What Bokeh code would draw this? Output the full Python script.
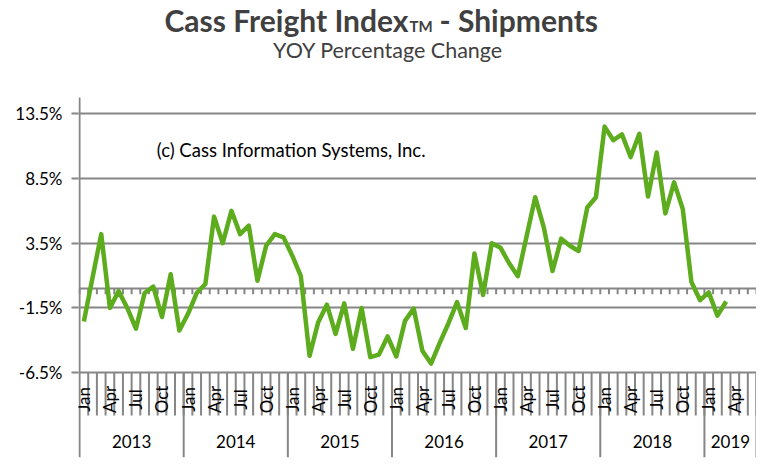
import numpy as np
from bokeh.plotting import figure
from bokeh.models import FixedTicker, PrintfTickFormatter, Range1d
from bokeh.core.properties import value
from bokeh.embed import file_html
from bokeh.resources import INLINE

# category axis: Jan 2013 .. Jun 2019
years = ["2013", "2014", "2015", "2016", "2017", "2018", "2019"]
months_in_year = [12, 12, 12, 12, 12, 12, 6]
month_names = ["Jan", "Feb", "Mar", "Apr", "May", "Jun",
               "Jul", "Aug", "Sep", "Oct", "Nov", "Dec"]

# YOY % change, Jan 2013 .. Mar 2019
shipments_yoy = [
    -2.55, 0.85, 4.2, -1.5, -0.2, -1.5, -3.1, -0.35, 0.15, -2.2, 1.1, -3.25,
    -1.95, -0.35, 0.35, 5.55, 3.5, 6.0, 4.2, 4.85, 0.6, 3.3, 4.2, 3.95,
    2.55, 0.95, -5.2, -2.6, -1.25, -3.5, -1.15, -4.65, -1.5, -5.3, -5.1, -3.7,
    -5.25, -2.5, -1.55, -4.8, -5.8, -4.2, -2.7, -1.05, -3.05, 2.7, -0.5, 3.5,
    3.15, 1.95, 0.95, 4.0, 7.05, 4.7, 1.35, 3.85, 3.3, 2.9, 6.25, 7.05,
    12.5, 11.45, 11.9, 10.15, 11.95, 7.1, 10.5, 5.8, 8.2, 6.15, 0.5, -0.9,
    -0.3, -2.1, -1.0,
]

y_ticks = [-6.5, -1.5, 3.5, 8.5, 13.5]

GREEN = "#5cac1e"
GRAY = "#868686"
DARK = "#404040"
FONT = "Lato"

n_axis = sum(months_in_year)
y_lo, y_hi = -13.05, 22.24   # frame covers title area too
axis_top = 14.75
label_top = -6.5

p = figure(width=756, height=461, x_range=Range1d(-0.12, n_axis), y_range=Range1d(y_lo, y_hi),
           output_backend="svg", toolbar_location=None, x_axis_location=None,
           min_border_left=78, min_border_right=0, min_border_top=0, min_border_bottom=4)
p.title.visible = False
p.outline_line_color = None
p.xgrid.visible = False

p.ygrid.ticker = FixedTicker(ticks=y_ticks)
p.ygrid.grid_line_color = GRAY
p.ygrid.grid_line_width = 2

ax = p.yaxis[0]
ax.ticker = FixedTicker(ticks=y_ticks)
ax.formatter = PrintfTickFormatter(format="%.1f%%")
ax.axis_line_color = None
ax.major_tick_line_color = GRAY
ax.major_tick_line_width = 2
ax.major_tick_in = 0
ax.major_tick_out = 7
ax.minor_tick_line_color = None
ax.major_label_text_font = FONT
ax.major_label_text_font_size = "17px"
ax.major_label_text_color = "black"
ax.major_label_standoff = 9

# vertical value axis line
p.segment(x0=[0], y0=[y_lo], x1=[0], y1=[axis_top], line_color=GRAY, line_width=2)

# horizontal category axis at 0 with month ticks
bounds = np.arange(n_axis + 1)
p.segment(x0=[0], y0=[0], x1=[n_axis], y1=[0], line_color=GRAY, line_width=2)
p.segment(x0=bounds, y0=0, x1=bounds, y1=-0.45, line_color=GRAY, line_width=2)

# month separators in label area
p.segment(x0=bounds[1:], y0=label_top, x1=bounds[1:], y1=-9.8, line_color=GRAY, line_width=2)
year_bounds = np.concatenate([[0], np.cumsum(months_in_year)])
p.segment(x0=year_bounds[1:], y0=label_top, x1=year_bounds[1:], y1=y_lo,
          line_color=GRAY, line_width=2)

# month labels (every third month)
lab_x, lab_t = [], []
i = 0
for yr, nm in zip(years, months_in_year):
    for m in range(nm):
        if m % 3 == 0:
            lab_x.append(i + 0.5)
            lab_t.append(month_names[m])
        i += 1
p.text(x=lab_x, y=[-8.57] * len(lab_x), text=lab_t, angle=np.pi / 2,
       text_align="center", text_baseline="middle", text_font=value(FONT),
       text_font_size="17px", text_color="black")

# year labels
yr_x = [(a + b) / 2 for a, b in zip(year_bounds[:-1], year_bounds[1:])]
p.text(x=yr_x, y=[-11.8] * len(yr_x), text=years, text_align="center",
       text_baseline="middle", text_font=value(FONT), text_font_size="17px",
       text_color="black")

# data line
x_data = np.arange(len(shipments_yoy)) + 0.5
p.line(x_data, shipments_yoy, line_color=GREEN, line_width=4.5, line_join="round")

p.text(x=[8.9], y=[10.66], text=["(c) Cass Information Systems, Inc."],
       text_align="left", text_baseline="middle", text_font=value(FONT),
       text_font_size="18.5px", text_color="black")

# titles
anchor_x = 37.9
p.text(x=[anchor_x], y=[20.7], text=["Cass Freight Index"], text_align="right",
       text_baseline="middle", text_font=value(FONT), text_font_size="30px",
       text_font_style="bold", text_color=DARK)
p.text(x=[anchor_x], y=[20.3], x_offset=1, text=["TM"], text_align="left",
       text_baseline="middle", text_font=value(FONT), text_font_size="15px",
       text_font_style="bold", text_color=DARK)
p.text(x=[anchor_x], y=[20.7], x_offset=31, text=["- Shipments"], text_align="left",
       text_baseline="middle", text_font=value(FONT), text_font_size="30px",
       text_font_style="bold", text_color=DARK)
p.text(x=[35.55], y=[18.4], text=["YOY Percentage Change"], text_align="center",
       text_baseline="middle", text_font=value(FONT), text_font_size="21.5px",
       text_color=DARK)

open("out.html", "w").write(file_html(p, INLINE))
